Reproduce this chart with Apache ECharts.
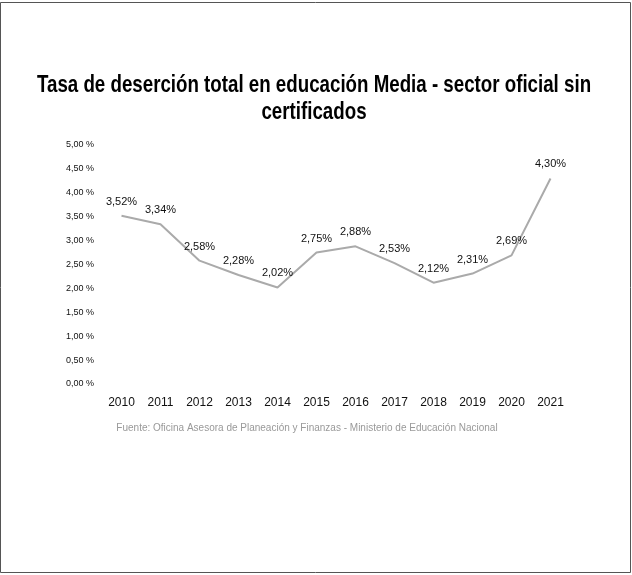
<!DOCTYPE html>
<html><head><meta charset="utf-8">
<script src="https://cdn.jsdelivr.net/npm/echarts@6/dist/echarts.min.js"></script>
<style>html,body{margin:0;padding:0;background:#fff}#c{width:632px;height:575px}</style>
</head><body><div id="c"></div>
<script>
const years = ['2010','2011','2012','2013','2014','2015','2016','2017','2018','2019','2020','2021'];
const rates = [3.52, 3.34, 2.58, 2.28, 2.02, 2.75, 2.88, 2.53, 2.12, 2.31, 2.69, 4.30];
const titleText = 'Tasa de deserción total en educación Media - sector oficial sin\ncertificados';
const sourceText = 'Fuente: Oficina Asesora de Planeación y Finanzas - Ministerio de Educación Nacional';
const chart = echarts.init(document.getElementById('c'));
chart.setOption({
  backgroundColor: '#fff',
  animation: false,
  graphic: [
    { type: 'rect', shape: { x: 0.5, y: 2.5, width: 630, height: 570 }, style: { fill: 'none', stroke: '#555', lineWidth: 1 } },
    { type: 'text', x: 314, y: 72, scaleX: 0.78, originX: 0, originY: 0,
      style: { text: titleText, align: 'center', verticalAlign: 'top', fontSize: 24, lineHeight: 27, fontWeight: 'bold', fill: '#000', fontFamily: 'Liberation Sans, Arial' } },
    { type: 'text', x: 307, y: 423, style: { text: sourceText, align: 'center', fontSize: 10, fill: '#999', fontFamily: 'Arial, Liberation Sans' } }
  ],
  grid: { left: 102, right: 62, top: 145, bottom: 191 },
  xAxis: {
    type: 'category', data: years, boundaryGap: true,
    axisLine: { show: false }, axisTick: { show: false },
    axisLabel: { color: '#111', fontSize: 12, margin: 13, fontFamily: 'Arial, Liberation Sans' }
  },
  yAxis: {
    type: 'value', min: 0, max: 5, interval: 0.5,
    splitLine: { show: false }, axisLine: { show: false }, axisTick: { show: false },
    axisLabel: { color: '#111', fontSize: 9, margin: 8, fontFamily: 'Arial, Liberation Sans',
      formatter: v => v.toFixed(2).replace('.', ',') + ' %' }
  },
  series: [{
    type: 'line', data: rates, symbol: 'circle', symbolSize: 1, showSymbol: true,
    itemStyle: { color: 'rgba(0,0,0,0)' },
    lineStyle: { color: '#aaa', width: 2 },
    label: { show: true, position: 'top', distance: 8, color: '#111', fontSize: 11, fontFamily: 'Arial, Liberation Sans',
      formatter: p => p.value.toFixed(2).replace('.', ',') + '%' }
  }]
});
</script></body></html>
